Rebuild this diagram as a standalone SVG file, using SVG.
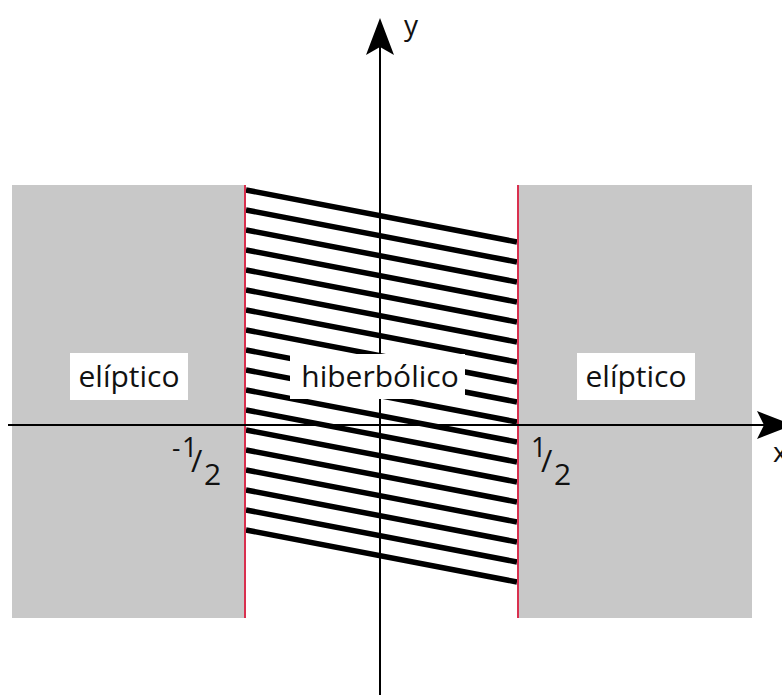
<svg xmlns="http://www.w3.org/2000/svg" width="782" height="695" viewBox="0 0 782 695">
<defs>
<style>
.region{fill:#c8c8c8}
.bound{stroke:#d9304f;stroke-width:2;fill:none}
.hatch{stroke:#000;stroke-width:5.5;fill:none}
.axis{stroke:#000;stroke-width:2;fill:none}
.box{fill:#fff}
.lbl{font-family:"Open Sans","Liberation Sans",sans-serif;font-size:30px;fill:#111}
.frac{font-family:"Open Sans","Liberation Sans",sans-serif;fill:#111}
</style>
</defs>
<rect width="782" height="695" fill="#fff"/>
<g id="elliptic-left"><rect class="region" x="12" y="185" width="233" height="433"/></g>
<g id="elliptic-right"><rect class="region" x="518" y="185" width="234" height="433"/></g>
<g id="hatching">
<path class="hatch" d="M246,190L517,242M246,210L517,262M246,230L517,282M246,250L517,302M246,270L517,322M246,290L517,342M246,310L517,362M246,330L517,382M246,350L517,402M246,370L517,422M246,390L517,442M246,410L517,462M246,430L517,482M246,450L517,502M246,470L517,522M246,490L517,542M246,510L517,562M246,530L517,582"/>
</g>
<g id="boundaries">
<line class="bound" x1="245" y1="185" x2="245" y2="618"/>
<line class="bound" x1="518" y1="185" x2="518" y2="618"/>
</g>
<g id="axes">
<line class="axis" x1="380" y1="46" x2="380" y2="695"/>
<polygon points="380,18 366,55 380,47 394,55" fill="#000"/>
<line class="axis" x1="8" y1="425" x2="766" y2="425"/>
<polygon points="793,425 757,411 764,425 757,439" fill="#000"/>
<text class="frac" x="404" y="35" font-size="28">y</text>
<text class="frac" x="773" y="462" font-size="28">x</text>
</g>
<g id="label-hyperbolic">
<rect class="box" x="290" y="354" width="175" height="45"/>
<text class="lbl" x="380" y="387" text-anchor="middle">hiberbólico</text>
</g>
<g id="label-elliptic-left">
<rect class="box" x="70" y="353" width="118" height="47"/>
<text class="lbl" x="129" y="387" text-anchor="middle">elíptico</text>
</g>
<g id="label-elliptic-right">
<rect class="box" x="577" y="353" width="118" height="47"/>
<text class="lbl" x="636" y="387" text-anchor="middle">elíptico</text>
</g>
<g id="tick-minus-half">
<text class="frac" x="172" y="457" font-size="26">-</text>
<text class="frac" x="182" y="457" font-size="27">1</text>
<text class="frac" x="191" y="472" font-size="31">/</text>
<text class="frac" x="204" y="485" font-size="30">2</text>
</g>
<g id="tick-half">
<text class="frac" x="531" y="457" font-size="27">1</text>
<text class="frac" x="541" y="472" font-size="31">/</text>
<text class="frac" x="554" y="485" font-size="30">2</text>
</g>
</svg>
